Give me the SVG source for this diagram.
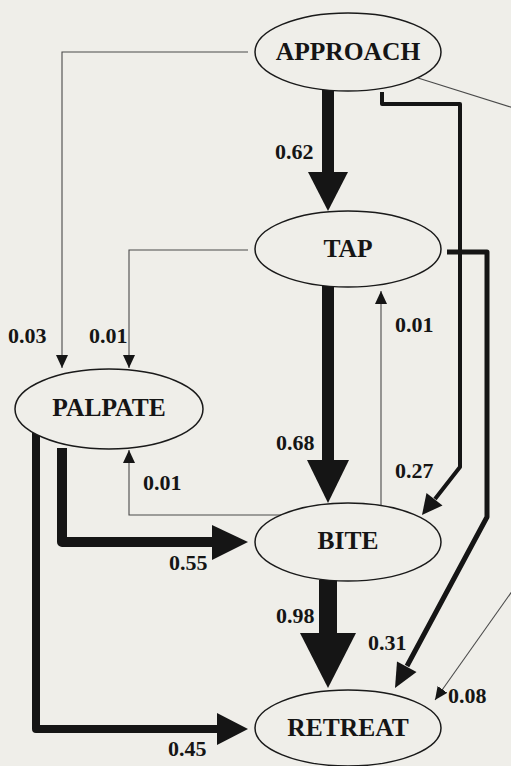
<svg xmlns="http://www.w3.org/2000/svg" width="511" height="766" viewBox="0 0 511 766">
  <defs>
    <style>
      .bg { fill: #efeee9; }
      .node ellipse { fill: #efeee9; stroke: #1a1a1a; stroke-width: 1.5; }
      .node text { font-family: "Liberation Serif", "Times New Roman", serif; font-weight: bold; font-size: 25.5px; fill: #151515; text-anchor: middle; }
      .thin { fill: none; stroke: #4a4a4a; stroke-width: 1.1; }
      .thick { fill: none; stroke: #151515; stroke-linejoin: round; }
      .head { fill: #151515; }
      .lbl { font-family: "Liberation Serif", "Times New Roman", serif; font-weight: bold; font-size: 22px; fill: #151515; }
    </style>
    <marker id="tip" markerUnits="userSpaceOnUse" markerWidth="14" markerHeight="13" refX="13" refY="6" orient="auto" viewBox="0 0 14 13">
      <path d="M0,0 L13,6 L0,12 z" fill="#151515"/>
    </marker>
  </defs>

  <rect class="bg" x="0" y="0" width="511" height="766"/>

  <g id="connectors">
    <!-- APPROACH -> TAP (0.62) -->
    <rect class="head" x="322" y="90" width="12" height="83"/>
    <polygon class="head" points="308,172 348,172 328,211"/>
    <!-- TAP -> BITE (0.68) -->
    <rect class="head" x="322" y="286" width="12" height="175"/>
    <polygon class="head" points="307,460 349,460 328,503"/>
    <!-- BITE -> RETREAT (0.98) -->
    <rect class="head" x="319" y="580" width="18" height="54"/>
    <polygon class="head" points="300,633 356,633 328,688"/>

    <!-- APPROACH -> BITE (0.27) -->
    <path class="thick" stroke-width="4" d="M382,92 V104 H460 V467 L435,499"/>
    <polygon class="head" points="422,515 442.5,505.5 426.5,493"/>
    <!-- TAP -> RETREAT (0.31) -->
    <path class="thick" stroke-width="5" d="M447,252 H487 V517 L407,666"/>
    <polygon class="head" points="395,688 416.5,672 397,661.5"/>

    <!-- PALPATE -> BITE (0.55) -->
    <path class="thick" stroke-width="10" d="M62,448 V542 H214"/>
    <polygon class="head" points="212,525 212,560 248,542"/>
    <!-- PALPATE -> RETREAT (0.45) -->
    <path class="thick" stroke-width="8" d="M36,433 V729 H219"/>
    <polygon class="head" points="217,713 217,745 248,729"/>

    <!-- APPROACH -> PALPATE (0.03) -->
    <path class="thin" d="M248,52 H62 V368" marker-end="url(#tip)"/>
    <!-- TAP -> PALPATE (0.01) -->
    <path class="thin" d="M248,250 H129 V368" marker-end="url(#tip)"/>
    <!-- BITE -> PALPATE (0.01) -->
    <path class="thin" d="M381,515 H129 V450" marker-end="url(#tip)"/>
    <!-- BITE -> TAP (0.01) -->
    <path class="thin" d="M381,515 V291" marker-end="url(#tip)"/>
    <!-- APPROACH -> RETREAT (0.08), leaving and re-entering at the right edge -->
    <path class="thin" d="M418,78 L520,110"/>
    <path class="thin" d="M520,580 L435,700" marker-end="url(#tip)"/>

    <!-- transition probabilities -->
    <text class="lbl" x="275" y="159">0.62</text>
    <text class="lbl" x="8" y="343">0.03</text>
    <text class="lbl" x="89" y="343">0.01</text>
    <text class="lbl" x="395" y="332">0.01</text>
    <text class="lbl" x="276" y="450">0.68</text>
    <text class="lbl" x="395" y="478">0.27</text>
    <text class="lbl" x="143" y="490">0.01</text>
    <text class="lbl" x="169" y="570">0.55</text>
    <text class="lbl" x="276" y="623">0.98</text>
    <text class="lbl" x="368" y="650">0.31</text>
    <text class="lbl" x="448" y="703">0.08</text>
    <text class="lbl" x="168" y="756">0.45</text>
  </g>

  <g id="approach" class="node">
    <ellipse cx="348" cy="52" rx="93" ry="39"/>
    <text x="348" y="60">APPROACH</text>
  </g>
  <g id="tap" class="node">
    <ellipse cx="348" cy="249" rx="93" ry="38"/>
    <text x="348" y="257">TAP</text>
  </g>
  <g id="palpate" class="node">
    <ellipse cx="109" cy="409" rx="94" ry="40"/>
    <text x="109" y="416">PALPATE</text>
  </g>
  <g id="bite" class="node">
    <ellipse cx="348" cy="542" rx="93" ry="39"/>
    <text x="348" y="549">BITE</text>
  </g>
  <g id="retreat" class="node">
    <ellipse cx="348" cy="728" rx="93" ry="38"/>
    <text x="348" y="736">RETREAT</text>
  </g>
</svg>
